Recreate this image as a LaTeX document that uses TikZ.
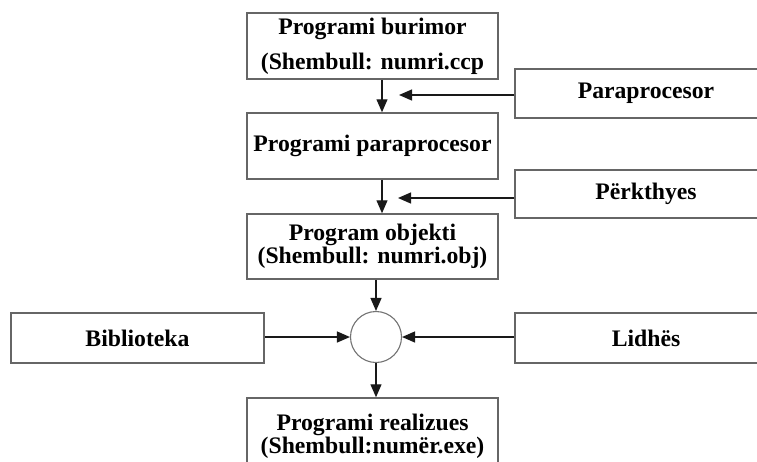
\documentclass[tikz,border=0pt]{standalone}
\usepackage{fontspec}
\setmainfont{Liberation Serif}
\usetikzlibrary{arrows.meta}
\tikzset{bx/.style={draw=black!60,line width=1.5pt,minimum width=251pt,minimum height=66pt,align=center,inner sep=0pt,font=\bfseries\fontsize{23.7}{23}\selectfont},sd/.style={bx,minimum width=262pt,minimum height=49pt},arr/.style={draw=black!90,line width=1.3pt,-{Triangle[length=13pt,width=11pt]}}}
\begin{document}
\begin{tikzpicture}[x=1pt,y=-1pt]
\useasboundingbox(0,0)rectangle(757,461);\clip(0,0)rectangle(757,461);
\node[bx](src)at(372.5,46){Programi burimor\\[12pt](Shembull: numri.ccp};
\node[bx](pp)at(372.5,146){Programi paraprocesor};
\node[bx,minimum height=65pt](obj)at(372.5,246.5){Program objekti\\(Shembull: numri.obj)};
\node[bx,minimum height=76pt](exe)at(372.5,436){Programi realizues\\(Shembull:numër.exe)};
\node[sd](ppr)at(646,93.5){Paraprocesor};\node[sd,minimum height=48pt](prk)at(646,194){Përkthyes};
\node[sd,minimum width=253pt,minimum height=50pt](lib)at(137.5,338){Biblioteka};
\node[sd,minimum height=50pt](lnk)at(646,338){Lidhës};
\node[circle,draw=black!55,line width=1.1pt,minimum size=51pt,inner sep=0pt](lk)at(376,337){};
\coordinate(t1)at(399,95);\coordinate(t2)at(398,198);\coordinate(v)at(382,0);
\foreach\a/\b in{src.south-|v/pp.north-|v,pp.south-|v/obj.north-|v,obj.south-|lk/lk.north,lk.south/lk.south|-exe.north,ppr.west|-t1/t1,prk.west|-t2/t2,lib.east|-lk/lk.west,lnk.west|-lk/lk.east}\draw[arr](\a)--(\b);
\end{tikzpicture}
\end{document}
